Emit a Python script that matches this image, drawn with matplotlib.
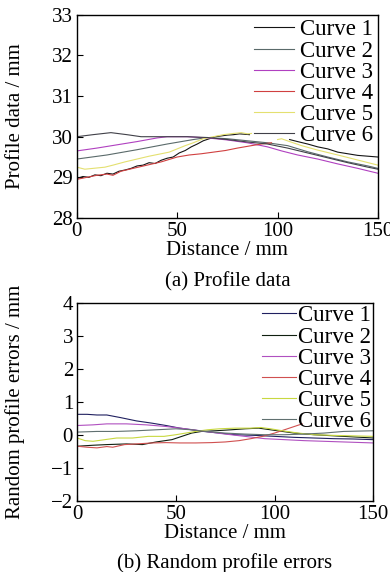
import numpy as np
import matplotlib
matplotlib.use('Agg')
import matplotlib.pyplot as plt

plt.rcParams['font.family'] = ['Liberation Serif', 'DejaVu Serif']
plt.rcParams['font.size'] = 15
plt.rcParams['axes.unicode_minus'] = True

labels = ['Curve 1', 'Curve 2', 'Curve 3', 'Curve 4', 'Curve 5', 'Curve 6']
nan = np.nan

# (a) profile data
a1_x = [0, 3, 6, 9, 12, 15, 18, 21, 24, 27, 30, 33, 36, 39, 42, 45, 48, 51, 54, 57, 60, 63, 66, 69, 72, 75, 78, 81, 84, 86,
        96, 106, 110, 115, 120, 125, 130, 135, 140, 145, 150]
a1_y = [28.97, 29.02, 29.0, 29.06, 29.04, 29.1, 29.08, 29.15, 29.18, 29.22, 29.28, 29.3, 29.36, 29.34, 29.42, 29.47,
        29.5, 29.6, 29.66, 29.75, 29.82, 29.9, 29.95, 30.0, 30.02, 30.04, 30.05, 30.07, 30.06, 30.05,
        nan, 29.93, 29.88, 29.82, 29.75, 29.7, 29.62, 29.58, 29.54, 29.52, 29.5]
a2_x = [0, 15, 30, 45, 58, 65, 75, 85, 95, 105, 115, 125, 135, 145, 150]
a2_y = [29.45, 29.55, 29.68, 29.82, 29.93, 29.98, 29.95, 29.9, 29.85, 29.78, 29.63, 29.5, 29.38, 29.28, 29.22]
a3_x = [0, 10, 20, 30, 40, 45, 55, 65, 75, 85, 95, 102, 110, 120, 130, 140, 150]
a3_y = [29.65, 29.72, 29.8, 29.88, 29.97, 30.0, 30.0, 29.97, 29.92, 29.85, 29.75, 29.65, 29.55, 29.45, 29.33, 29.22, 29.1]
a4_x = [0, 5, 10, 15, 18, 22, 28, 35, 42, 50, 56, 62, 68, 74, 80, 87, 92, 97]
a4_y = [28.95, 29.0, 29.05, 29.08, 29.05, 29.15, 29.22, 29.3, 29.38, 29.5, 29.55, 29.58, 29.62, 29.66, 29.72, 29.78,
        29.82, 29.85]
a5_x = [0, 4, 8, 14, 18, 24, 30, 36, 42, 46, 50, 54, 58, 63, 68, 73, 78, 82, 85, 87,
        94, 100, 102, 106, 112, 120, 130, 138, 146, 150]
a5_y = [29.25, 29.2, 29.22, 29.25, 29.3, 29.38, 29.45, 29.52, 29.58, 29.62, 29.7, 29.78, 29.85, 29.95, 30.0, 30.05,
        30.08, 30.1, 30.07, 30.08,
        nan, 29.93, 29.95, 29.88, 29.78, 29.67, 29.55, 29.45, 29.35, 29.3]
a6_x = [0, 8, 17, 25, 32, 45, 55, 65, 75, 85, 95, 105, 115, 125, 135, 145, 150]
a6_y = [30.0, 30.05, 30.1, 30.05, 30.0, 30.0, 30.0, 29.98, 29.93, 29.87, 29.82, 29.72, 29.6, 29.48, 29.36, 29.25, 29.2]

# (b) random profile errors
b1_x = [0, 5, 10, 15, 22, 30, 38, 45, 52, 58, 64, 72, 80, 90, 100, 110, 120, 130, 140, 150]
b1_y = [0.62, 0.62, 0.6, 0.6, 0.52, 0.42, 0.35, 0.28, 0.2, 0.15, 0.1, 0.05, 0.0, -0.02, -0.05, -0.08, -0.1, -0.12,
        -0.13, -0.15]
b2_x = [0, 8, 15, 25, 33, 40, 48, 53, 58, 63, 70, 78, 85, 92, 98, 110, 120, 135, 150]
b2_y = [-0.35, -0.32, -0.3, -0.28, -0.3, -0.22, -0.15, -0.05, 0.05, 0.1, 0.12, 0.15, 0.18, 0.2, 0.15, 0.05, 0.0,
        -0.05, -0.1]
b3_x = [0, 8, 15, 25, 35, 45, 55, 65, 75, 85, 95, 105, 115, 125, 140, 150]
b3_y = [0.28, 0.3, 0.33, 0.33, 0.3, 0.25, 0.18, 0.1, 0.02, -0.05, -0.12, -0.15, -0.18, -0.2, -0.23, -0.25]
b4_x = [0, 5, 10, 15, 18, 24, 30, 38, 45, 52, 60, 68, 75, 82, 88, 94, 100, 105, 110, 114]
b4_y = [-0.35, -0.38, -0.4, -0.36, -0.38, -0.3, -0.28, -0.25, -0.24, -0.25, -0.25, -0.24, -0.22, -0.18, -0.12,
        -0.05, 0.05, 0.15, 0.25, 0.33]
b5_x = [0, 4, 8, 14, 20, 28, 36, 44, 50, 55, 60, 66, 72, 80, 88, 93, 98, 104, 112, 120, 130, 150]
b5_y = [-0.1, -0.18, -0.2, -0.15, -0.1, -0.1, -0.05, -0.05, 0.0, 0.05, 0.1, 0.15, 0.18, 0.2, 0.2, 0.22, 0.18,
        0.12, 0.05, 0.0, -0.02, -0.05]
b6_x = [0, 10, 20, 30, 40, 50, 58, 65, 75, 85, 95, 105, 115, 125, 135, 150]
b6_y = [0.08, 0.1, 0.1, 0.12, 0.15, 0.18, 0.15, 0.1, 0.05, 0.02, 0.0, 0.0, 0.02, 0.05, 0.1, 0.12]

colors_a = ['#151515', '#5a6a6a', '#b040c0', '#d04040', '#e4e070', '#404048']
colors_b = ['#202060', '#102010', '#b050c0', '#d05050', '#c8d840', '#607070']

fig = plt.figure(figsize=(3.9, 5.72), dpi=100)
ax1 = fig.add_axes([0.197, 0.619, 0.772, 0.355])
ax2 = fig.add_axes([0.198, 0.125, 0.759, 0.345])

series_a = [(a1_x, a1_y), (a2_x, a2_y), (a3_x, a3_y), (a4_x, a4_y), (a5_x, a5_y), (a6_x, a6_y)]
series_b = [(b1_x, b1_y), (b2_x, b2_y), (b3_x, b3_y), (b4_x, b4_y), (b5_x, b5_y), (b6_x, b6_y)]

for (x, y), c, lab in zip(series_a, colors_a, labels):
    ax1.plot(x, np.array(y, dtype=float), color=c, lw=0.8, label=lab)
for (x, y), c, lab in zip(series_b, colors_b, labels):
    ax2.plot(x, np.array(y, dtype=float), color=c, lw=0.8, label=lab)

ax1.set_xlim(0, 150)
ax1.set_ylim(28, 33)
ax1.set_xticks([0, 50, 100, 150])
ax1.set_yticks([28, 29, 30, 31, 32, 33])
ax1.set_ylabel('Profile data / mm')
ax1.set_xlabel('Distance / mm', labelpad=0)

ax2.set_xlim(0, 150)
ax2.set_ylim(-2, 4)
ax2.set_xticks([0, 50, 100, 150])
ax2.set_yticks([-2, -1, 0, 1, 2, 3, 4])
ax2.set_ylabel('Random profile errors / mm')
ax2.set_xlabel('Distance / mm', labelpad=0)

for ax in (ax1, ax2):
    ax.tick_params(direction='in', length=4, width=0.8, labelsize=15, pad=3)
    for s in ax.spines.values():
        s.set_linewidth(1.0)

ax1.legend(loc='upper right', frameon=False, fontsize=16.5, handlelength=1.75,
           handletextpad=0.25, labelspacing=0.0, borderaxespad=0.1, borderpad=0.1)
ax2.legend(loc='upper right', frameon=False, fontsize=16.5, handlelength=1.5,
           handletextpad=0.08, labelspacing=0.0, borderaxespad=0.0, borderpad=0.1)

ax1.yaxis.set_label_coords(-0.172, 0.5)
ax2.yaxis.set_label_coords(-0.176, 0.5)

fig.text(0.583, 1 - 282 / 572, '(a) Profile data', ha='center', va='center', fontsize=15)
fig.text(0.577, 1 - 563 / 572, '(b) Random profile errors', ha='center', va='center', fontsize=15)

fig.savefig('out.png', dpi=100)
